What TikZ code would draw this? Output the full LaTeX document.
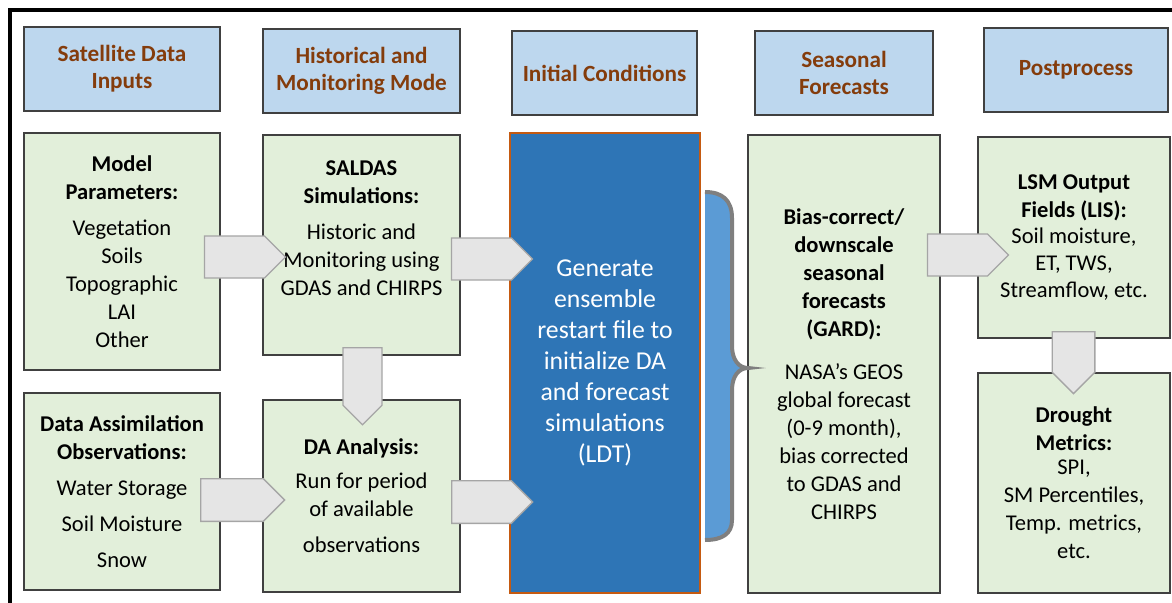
\documentclass[tikz,border=0pt]{standalone}
\usepackage{fontspec}
\setmainfont{Carlito}
\usetikzlibrary{shapes.arrows}

\definecolor{headblue}{HTML}{BDD7EE}
\definecolor{headtext}{HTML}{843C0C}
\definecolor{boxgreen}{HTML}{E2EFDA}
\definecolor{boxline}{HTML}{404040}
\definecolor{ldtblue}{HTML}{2E75B6}
\definecolor{ldtedge}{HTML}{C55A11}
\definecolor{bracefill}{HTML}{5B9BD5}
\definecolor{bracegray}{HTML}{7F7F7F}
\definecolor{arrowfill}{HTML}{E5E5E5}
\definecolor{arrowline}{HTML}{A5A5A5}

\begin{document}
\begin{tikzpicture}[x=0.75pt, y=-0.75pt,
	head/.style={draw=boxline, line width=1pt, fill=headblue, text=headtext,
		font=\fontsize{17.4}{20.3}\selectfont\bfseries, align=center,
		inner sep=0, minimum height=63pt},
	stage/.style={draw=boxline, line width=1pt, fill=boxgreen, text=black,
		font=\fontsize{16.9}{21}\selectfont, align=center, inner sep=0},
	blockarrow/.style={single arrow, single arrow head extend=0pt,
		single arrow tip angle=90, draw=arrowline, fill=arrowfill,
		line width=1pt, inner sep=0, minimum width=31.5pt}]
	\useasboundingbox (0,0) rectangle (1172,603);
	
	% frame
	\draw[line width=2.3pt] (1175,10) -- (10,10) -- (10,606);
	
	% column headers
	\node[head, minimum width=147pt] (hsat) at (122,69) {Satellite Data\\Inputs};
	\node[head, minimum width=147.75pt] (hhist) at (361.5,71) {Historical and\\Monitoring Mode};
	\node[head, minimum width=138.75pt] (hinit) at (604.5,73) {Initial Conditions};
	\node[head, minimum width=133.5pt] (hseas) at (844,73) {Seasonal\\Forecasts};
	\node[head, minimum width=138pt] (hpost) at (1076,70) {Postprocess};
	
	% inputs
	\node[stage, minimum width=147pt, minimum height=177.75pt] (params) at (122,251.5)
		{\textbf{Model}\\\textbf{Parameters:}\\[6pt]Vegetation\\Soils\\Topographic\\LAI\\Other};
	\node[stage, minimum width=147pt, minimum height=147.75pt] (obs) at (122,491.5)
		{\textbf{Data Assimilation}\\\textbf{Observations:}\\[6.5pt]Water Storage\\[6pt]Soil Moisture\\[6pt]Snow};
	
	% historical / monitoring runs
	\node[stage, minimum width=147.75pt, minimum height=165pt] (saldas) at (361.5,245)
		{\textbf{SALDAS}\\\textbf{Simulations:}\\[6pt]Historic and\\Monitoring using\\GDAS and CHIRPS\\[4.5pt]\mbox{}};
	\node[stage, minimum width=147.75pt, minimum height=144pt] (danal) at (361.5,496)
		{\textbf{DA Analysis:}\\[4.5pt]Run for period\\of available\\[6pt]observations};
	
	% initial conditions
	\node[draw=ldtedge, line width=0.8pt, fill=ldtblue, text=white, align=center,
		font=\fontsize{19.3}{23.3}\selectfont, inner sep=0,
		minimum width=142.5pt, minimum height=345pt] (ldt) at (605,363)
		{Generate\\ensemble\\restart file to\\initialize DA\\and forecast\\simulations\\(LDT)};
	
	% seasonal forecasts
	\node[stage, minimum width=144pt, minimum height=343.5pt] (gard) at (844,364)
		{\textbf{Bias-correct/}\\\textbf{downscale}\\\textbf{seasonal}\\\textbf{forecasts}\\\textbf{(GARD):}\\[11pt]NASA’s GEOS\\global forecast\\(0-9 month),\\bias corrected\\to GDAS and\\CHIRPS};
	
	% postprocess
	\node[stage, minimum width=144pt, minimum height=150.75pt] (lsm) at (1074,237.5)
		{\textbf{LSM Output}\\\textbf{Fields (LIS):}\\[-0.8pt]Soil moisture,\\[-0.8pt]ET, TWS,\\[-0.8pt]Streamflow, etc.};
	\node[stage, minimum width=144pt, minimum height=165pt] (drought) at (1074,483)
		{\textbf{Drought}\\\textbf{Metrics:}\\[-3pt]SPI,\\SM Percentiles,\\Temp. metrics,\\etc.};
	
	% block arrows
	\node[blockarrow, minimum height=60.75pt] (a1) at (234.5,257) {};
	\node[blockarrow, minimum height=60.75pt] (a2) at (481.5,259) {};
	\node[blockarrow, minimum height=57.75pt, minimum width=29.25pt, rotate=-90] (a3) at (362.5,376.5) {};
	\node[blockarrow, minimum height=63pt, minimum width=32pt] (a4) at (232,500) {};
	\node[blockarrow, minimum height=60.75pt, minimum width=32pt] (a5) at (481.5,502) {};
	\node[blockarrow, minimum height=60.75pt] (a6) at (957.5,255) {};
	\node[blockarrow, minimum height=46.5pt, minimum width=32pt, rotate=-90] (a7) at (1073.5,352) {};
	
	% brace
	\fill[bracefill] (705,192) .. controls (722,192) and (732,200) .. (732,218) -- (732,346)
		.. controls (732,360) and (739,368) .. (748,368)
		.. controls (739,368) and (732,376) .. (732,390) -- (732,520)
		.. controls (732,534) and (722,540) .. (705,540) -- cycle;
	\draw[bracegray, line width=3pt] (705,192) .. controls (722,192) and (732,200) .. (732,218) -- (732,346)
		.. controls (732,360) and (739,368) .. (748,368)
		.. controls (739,368) and (732,376) .. (732,390) -- (732,520)
		.. controls (732,534) and (722,540) .. (705,540);
\end{tikzpicture}
\end{document}
